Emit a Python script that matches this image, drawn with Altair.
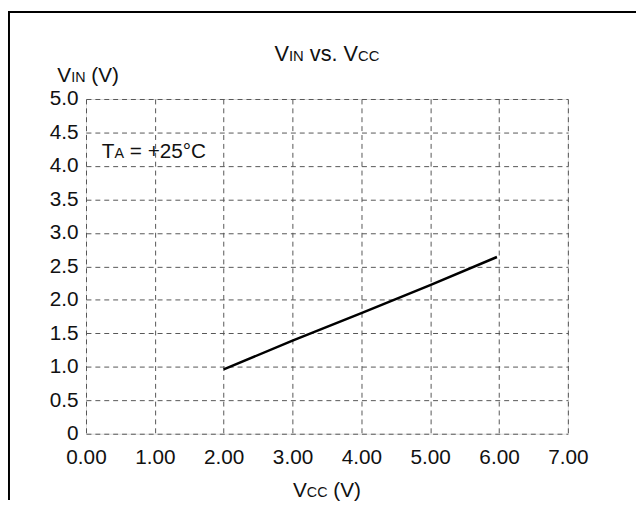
import altair as alt
import pandas as pd

# ---- data ----
vcc = [2.0, 3.0, 4.0, 5.0, 5.97]
vin = [0.96, 1.39, 1.80, 2.22, 2.64]
x_ticks = [0, 1, 2, 3, 4, 5, 6, 7]
y_ticks = [0, 0.5, 1.0, 1.5, 2.0, 2.5, 3.0, 3.5, 4.0, 4.5, 5.0]

W, H = 488, 339
PAD = {"left": 79, "top": 89, "right": 69, "bottom": 67}
FONT = "Liberation Sans"
BIG, SMALL = 21, 14.5
TBIG, TSMALL = 22, 15

ARIAL = {'V': 667, 'I': 278, 'N': 722, ' ': 278, 'v': 500, 's': 500,
         '.': 278, 'C': 722, 'c': 500, '(': 333, ')': 333, 'T': 611, 'A': 667,
         '=': 584, '+': 584, '2': 556, '5': 556, '°': 400}


def width(txt, size):
    return sum(ARIAL.get(ch, 556) for ch in txt) * size / 1000.0


def rich_text(parts, x0, y0, center=False):
    total = sum(width(t, s) for t, s in parts)
    x = x0 - total / 2 if center else x0
    layers = []
    for t, s in parts:
        # split into words so no text element relies on whitespace
        for i, word in enumerate(t.split(" ")):
            if i > 0:
                x += width(" ", s)
            if word:
                layers.append(
                    alt.Chart(pd.DataFrame({"k": [0]})).mark_text(
                        align="left", baseline="alphabetic", font=FONT,
                        fontSize=s, color="#111"
                    ).encode(x=alt.value(x), y=alt.value(y0),
                             text=alt.value(word))
                )
                x += width(word, s)
    return layers


df = pd.DataFrame({"vcc": vcc, "vin": vin})

xscale = alt.Scale(domain=[0, 7], nice=False, zero=False)
yscale = alt.Scale(domain=[0, 5], nice=False)

line = alt.Chart(df).mark_line(color="#000", strokeWidth=2.5).encode(
    x=alt.X("vcc:Q", scale=xscale,
            axis=alt.Axis(values=x_ticks, format=".2f", title="", ticks=False,
                          domain=False, grid=True, gridDash=[5, 4],
                          gridColor="#555", gridWidth=1, labelFont=FONT,
                          labelFontSize=BIG, labelColor="#111",
                          labelPadding=13, labelFlush=False)),
    y=alt.Y("vin:Q", scale=yscale,
            axis=alt.Axis(values=y_ticks, title="", ticks=False, domain=False,
                          grid=True, gridDash=[5, 4], gridColor="#555",
                          gridWidth=1, labelFont=FONT, labelFontSize=BIG,
                          labelColor="#111", labelPadding=8,
                          labelFlush=False,
                          labelExpr="datum.value == 0 ? '0' : format(datum.value, '.1f')")),
)

# outer frame (top and left edges only are visible in the reference)
frame_top = alt.Chart(pd.DataFrame({"k": [0]})).mark_rule(
    color="#000", strokeWidth=2).encode(
    x=alt.value(-PAD["left"]), x2=alt.value(W + PAD["right"]),
    y=alt.value(-PAD["top"] + 1))
frame_left = alt.Chart(pd.DataFrame({"k": [0]})).mark_rule(
    color="#000", strokeWidth=2).encode(
    x=alt.value(-PAD["left"] + 1), y=alt.value(-PAD["top"]),
    y2=alt.value(H + PAD["bottom"]))

texts = []
texts += rich_text([("V", TBIG), ("IN", TSMALL), (" vs. V", TBIG),
                    ("CC", TSMALL)], W / 2, -38, center=True)
texts += rich_text([("V", BIG), ("IN", SMALL), (" (V)", BIG)], -29, -17)
texts += rich_text([("V", BIG), ("CC", SMALL), (" (V)", BIG)], W / 2, 403,
                   center=True)
texts += rich_text([("T", BIG), ("A", SMALL), (" = +25°C", BIG)], 16, 60)

chart = alt.layer(line, frame_top, frame_left, *texts).properties(
    width=W, height=H,
    autosize=alt.AutoSizeParams(type="none"),
    padding=PAD,
).configure_view(stroke="#222", strokeWidth=1.5).configure(background="white")

chart.save("out.html", embed_options={"renderer": "svg", "actions": False})
